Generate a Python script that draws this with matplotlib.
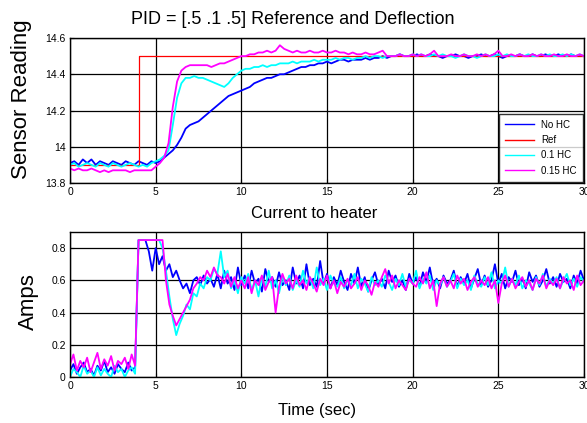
import numpy as np
import matplotlib
matplotlib.use("Agg")
import matplotlib.pyplot as plt

plt.rcParams['font.family'] = ['Liberation Sans Narrow', 'Liberation Sans', 'DejaVu Sans']

# ---------------- data ----------------
# top panel: sensor reading, sampled every 0.25 s from 0 to 30
t_top_step = 0.25
no_hc_top = [
    13.91, 13.92, 13.90, 13.93, 13.91, 13.93, 13.90, 13.92, 13.91, 13.90, 13.92, 13.91,
    13.90, 13.92, 13.91, 13.90, 13.92, 13.91, 13.90, 13.92, 13.91, 13.92, 13.94, 13.96,
    13.98, 14.01, 14.05, 14.10, 14.12, 14.13, 14.14, 14.16, 14.18, 14.20, 14.22, 14.24,
    14.26, 14.28, 14.29, 14.30, 14.31, 14.32, 14.33, 14.35, 14.36, 14.37, 14.38, 14.38,
    14.39, 14.40, 14.40, 14.41, 14.42, 14.43, 14.44, 14.44, 14.45, 14.45, 14.46, 14.46,
    14.47, 14.46, 14.47, 14.48, 14.48, 14.47, 14.48, 14.48, 14.48, 14.49, 14.48, 14.49,
    14.49, 14.50, 14.49, 14.50, 14.50, 14.51, 14.50, 14.50, 14.50, 14.51, 14.50, 14.50,
    14.51, 14.50, 14.50, 14.49, 14.50, 14.50, 14.51, 14.50, 14.50, 14.49, 14.50, 14.50,
    14.51, 14.50, 14.50, 14.51, 14.50, 14.49, 14.50, 14.50, 14.50, 14.51, 14.50, 14.50,
    14.51, 14.50, 14.50, 14.51, 14.50, 14.50, 14.51, 14.50, 14.50, 14.51, 14.50, 14.50,
    14.50]
hc01_top = [
    13.90, 13.91, 13.89, 13.90, 13.91, 13.90, 13.89, 13.91, 13.90, 13.89, 13.91, 13.90,
    13.89, 13.90, 13.91, 13.90, 13.89, 13.90, 13.89, 13.91, 13.92, 13.93, 13.95, 13.98,
    14.12, 14.27, 14.35, 14.38, 14.38, 14.39, 14.38, 14.38, 14.37, 14.36, 14.35, 14.34,
    14.33, 14.35, 14.38, 14.40, 14.42, 14.43, 14.43, 14.44, 14.44, 14.45, 14.44, 14.45,
    14.45, 14.46, 14.46, 14.46, 14.47, 14.46, 14.47, 14.47, 14.47, 14.48, 14.47, 14.48,
    14.48, 14.48, 14.49, 14.48, 14.49, 14.49, 14.48, 14.49, 14.49, 14.50, 14.49, 14.50,
    14.50, 14.49, 14.50, 14.50, 14.50, 14.51, 14.50, 14.50, 14.51, 14.50, 14.51, 14.50,
    14.50, 14.51, 14.50, 14.51, 14.50, 14.50, 14.49, 14.50, 14.51, 14.50, 14.50, 14.49,
    14.50, 14.51, 14.50, 14.50, 14.51, 14.50, 14.51, 14.50, 14.50, 14.51, 14.50, 14.51,
    14.50, 14.50, 14.51, 14.50, 14.51, 14.50, 14.50, 14.51, 14.50, 14.51, 14.50, 14.51,
    14.50]
hc015_top = [
    13.88, 13.87, 13.88, 13.87, 13.87, 13.88, 13.87, 13.86, 13.87, 13.86, 13.87, 13.87,
    13.87, 13.87, 13.86, 13.87, 13.87, 13.87, 13.87, 13.87, 13.89, 13.91, 13.94, 14.02,
    14.22, 14.36, 14.42, 14.44, 14.45, 14.45, 14.45, 14.45, 14.45, 14.44, 14.45, 14.46,
    14.46, 14.47, 14.48, 14.49, 14.50, 14.50, 14.51, 14.51, 14.52, 14.52, 14.53, 14.52,
    14.53, 14.56, 14.54, 14.53, 14.52, 14.53, 14.52, 14.52, 14.53, 14.52, 14.52, 14.53,
    14.52, 14.52, 14.53, 14.52, 14.52, 14.51, 14.52, 14.51, 14.51, 14.52, 14.51, 14.51,
    14.52, 14.53, 14.50, 14.50, 14.50, 14.51, 14.50, 14.50, 14.51, 14.50, 14.51, 14.50,
    14.51, 14.53, 14.50, 14.50, 14.50, 14.51, 14.50, 14.50, 14.51, 14.50, 14.50, 14.51,
    14.50, 14.51, 14.50, 14.51, 14.53, 14.50, 14.50, 14.51, 14.50, 14.51, 14.50, 14.50,
    14.51, 14.50, 14.51, 14.50, 14.50, 14.51, 14.50, 14.50, 14.51, 14.50, 14.50, 14.51,
    14.50]
ref_t = [0, 4, 4, 30]
ref_v = [13.9, 13.9, 14.5, 14.5]

# bottom panel: current to heater, sampled every 0.2 s from 0 to 30
t_bot_step = 0.2
no_hc_bot = [
    0.04, 0.08, 0.02, 0.06, 0.09, 0.03, 0.05, 0.01, 0.07, 0.04,
    0.10, 0.03, 0.06, 0.02, 0.08, 0.05, 0.03, 0.09, 0.04, 0.06,
    0.85, 0.85, 0.85, 0.78, 0.66, 0.80, 0.70, 0.75, 0.66, 0.70,
    0.62, 0.66, 0.60, 0.55, 0.58, 0.52, 0.60, 0.62, 0.57, 0.63,
    0.58, 0.61, 0.56, 0.64, 0.55, 0.66, 0.58, 0.62, 0.54, 0.68, 0.57,
    0.63, 0.55, 0.66, 0.58, 0.61, 0.53, 0.67, 0.59, 0.62, 0.56,
    0.65, 0.57, 0.60, 0.54, 0.68, 0.58, 0.63, 0.55, 0.70, 0.57,
    0.61, 0.56, 0.72, 0.58, 0.64, 0.55, 0.62, 0.57, 0.66, 0.59,
    0.54, 0.64, 0.58, 0.68, 0.56, 0.62, 0.53, 0.60, 0.65, 0.57,
    0.61, 0.55, 0.66, 0.59, 0.63, 0.56, 0.60, 0.54, 0.64, 0.58,
    0.62, 0.56, 0.65, 0.59, 0.68, 0.57, 0.61, 0.55, 0.63, 0.58,
    0.60, 0.66, 0.56, 0.62, 0.58, 0.64, 0.55, 0.61, 0.67, 0.57,
    0.63, 0.56, 0.60, 0.70, 0.58, 0.64, 0.55, 0.62, 0.59, 0.66,
    0.57, 0.61, 0.55, 0.65, 0.59, 0.63, 0.56, 0.60, 0.67, 0.58,
    0.62, 0.56, 0.64, 0.59, 0.61, 0.55, 0.63, 0.58, 0.66, 0.60]
hc01_bot = [
    0.00, 0.05, 0.03, 0.00, 0.07, 0.02, 0.04, 0.00, 0.06, 0.01,
    0.05, 0.02, 0.00, 0.07, 0.03, 0.05, 0.00, 0.04, 0.06, 0.02,
    0.85, 0.85, 0.85, 0.85, 0.85, 0.85, 0.85, 0.80, 0.66, 0.50,
    0.36, 0.26, 0.33, 0.38, 0.45, 0.42, 0.52, 0.50, 0.58, 0.55,
    0.62, 0.60, 0.67, 0.64, 0.78, 0.62, 0.66, 0.55, 0.60, 0.52, 0.62,
    0.58, 0.64, 0.54, 0.60, 0.50, 0.62, 0.56, 0.66, 0.55, 0.60,
    0.52, 0.62, 0.57, 0.63, 0.54, 0.60, 0.56, 0.66, 0.58, 0.62,
    0.55, 0.68, 0.57, 0.61, 0.54, 0.63, 0.58, 0.56, 0.62, 0.55,
    0.60, 0.57, 0.64, 0.55, 0.61, 0.58, 0.53, 0.62, 0.57, 0.60,
    0.56, 0.63, 0.59, 0.54, 0.61, 0.57, 0.64, 0.56, 0.60, 0.58,
    0.66, 0.55, 0.61, 0.58, 0.63, 0.54, 0.60, 0.57, 0.62, 0.56,
    0.59, 0.64, 0.55, 0.61, 0.57, 0.60, 0.54, 0.63, 0.58, 0.56,
    0.62, 0.57, 0.65, 0.55, 0.60, 0.58, 0.68, 0.56, 0.61, 0.57,
    0.63, 0.55, 0.60, 0.58, 0.54, 0.62, 0.57, 0.64, 0.56, 0.61,
    0.58, 0.62, 0.55, 0.60, 0.64, 0.57, 0.61, 0.56, 0.62, 0.59]
hc015_bot = [
    0.08, 0.14, 0.04, 0.10, 0.06, 0.12, 0.03, 0.09, 0.15, 0.05,
    0.11, 0.07, 0.13, 0.04, 0.10, 0.08, 0.12, 0.05, 0.14, 0.07,
    0.85, 0.85, 0.85, 0.85, 0.85, 0.85, 0.85, 0.85, 0.60, 0.45,
    0.38, 0.32, 0.36, 0.40, 0.44, 0.48, 0.55, 0.58, 0.62, 0.60,
    0.66, 0.62, 0.68, 0.63, 0.62, 0.58, 0.64, 0.56, 0.62, 0.55, 0.60,
    0.55, 0.62, 0.52, 0.60, 0.57, 0.63, 0.54, 0.59, 0.62, 0.40,
    0.56, 0.64, 0.58, 0.61, 0.55, 0.63, 0.57, 0.60, 0.54, 0.62,
    0.58, 0.53, 0.61, 0.57, 0.63, 0.55, 0.60, 0.52, 0.59, 0.56,
    0.61, 0.55, 0.58, 0.62, 0.54, 0.60, 0.57, 0.51, 0.59, 0.56,
    0.62, 0.67, 0.58, 0.63, 0.55, 0.60, 0.57, 0.54, 0.61, 0.58,
    0.56, 0.62, 0.58, 0.65, 0.55, 0.60, 0.44, 0.58, 0.62, 0.56,
    0.60, 0.55, 0.63, 0.58, 0.61, 0.54, 0.59, 0.62, 0.56, 0.60,
    0.57, 0.62, 0.55, 0.60, 0.46, 0.58, 0.63, 0.56, 0.61, 0.55,
    0.59, 0.62, 0.56, 0.60, 0.54, 0.61, 0.58, 0.63, 0.55, 0.60,
    0.57, 0.61, 0.55, 0.62, 0.58, 0.60, 0.54, 0.63, 0.57, 0.60]

x_ticks = [0, 5, 10, 15, 20, 25, 30]
top_yticks = [13.8, 14.0, 14.2, 14.4, 14.6]
top_ylabels = ['13.8', '14', '14.2', '14.4', '14.6']
bot_yticks = [0, 0.2, 0.4, 0.6, 0.8]
bot_ylabels = ['0', '0.2', '0.4', '0.6', '0.8']
series_names = ['No HC', 'Ref', '0.1 HC', '0.15 HC']

t_top = np.arange(len(no_hc_top)) * t_top_step
t_bot = np.arange(len(no_hc_bot)) * t_bot_step

# ---------------- figure ----------------
W, H = 587, 423
fig = plt.figure(figsize=(W / 100, H / 100), dpi=100)

def axes_px(left, top, right, bottom):
    return fig.add_axes([left / W, 1 - bottom / H, (right - left) / W, (bottom - top) / H])

ax1 = axes_px(70, 38, 584, 183)
ax2 = axes_px(70, 232, 584, 377)

for ax in (ax1, ax2):
    ax.set_xlim(0, 30)
    ax.set_xticks(x_ticks)
    ax.set_xticklabels([str(v) for v in x_ticks])
    ax.grid(True, color='black', linewidth=0.9)
    ax.set_axisbelow(True)
    ax.tick_params(direction='in', length=3, labelsize=7.5, pad=3, colors='black')
    for s in ax.spines.values():
        s.set_linewidth(1.0)
        s.set_color('black')

lw = 1.3
ax1.plot(t_top, no_hc_top, color='#0000ff', lw=lw, label=series_names[0])
ax1.plot(ref_t, ref_v, color='#ff0000', lw=0.9, label=series_names[1])
ax1.plot(t_top, hc01_top, color='#00ffff', lw=lw, label=series_names[2])
ax1.plot(t_top, hc015_top, color='#ff00ff', lw=lw, label=series_names[3])
ax1.set_ylim(13.8, 14.6)
ax1.set_yticks(top_yticks)
ax1.set_yticklabels(top_ylabels)

leg = ax1.legend(loc='lower right', fontsize=7, frameon=True, fancybox=False,
                 borderaxespad=0.15, handlelength=3.0, labelspacing=0.55,
                 borderpad=0.6, handletextpad=0.7)
leg.get_frame().set_edgecolor('black')
leg.get_frame().set_linewidth(1.0)
for line in leg.get_lines():
    line.set_linewidth(1.0)

ax2.plot(t_bot, no_hc_bot, color='#0000ff', lw=lw)
ax2.plot(t_bot, hc01_bot, color='#00ffff', lw=lw)
ax2.plot(t_bot, hc015_bot, color='#ff00ff', lw=lw)
ax2.set_ylim(0, 0.9)
ax2.set_yticks(bot_yticks)
ax2.set_yticklabels(bot_ylabels)

fig.text(293 / W, 1 - 20 / H, 'PID = [.5 .1 .5] Reference and Deflection',
         ha='center', va='center', fontsize=13)
fig.text(314 / W, 1 - 214 / H, 'Current to heater', ha='center', va='center', fontsize=12)
fig.text(317 / W, 1 - 410 / H, 'Time (sec)', ha='center', va='center', fontsize=12)
fig.text(22 / W, 1 - 99 / H, 'Sensor Reading', ha='center', va='center',
         rotation=90, fontsize=16)
fig.text(28 / W, 1 - 302 / H, 'Amps', ha='center', va='center', rotation=90, fontsize=16)

fig.savefig('out.png', dpi=100)
